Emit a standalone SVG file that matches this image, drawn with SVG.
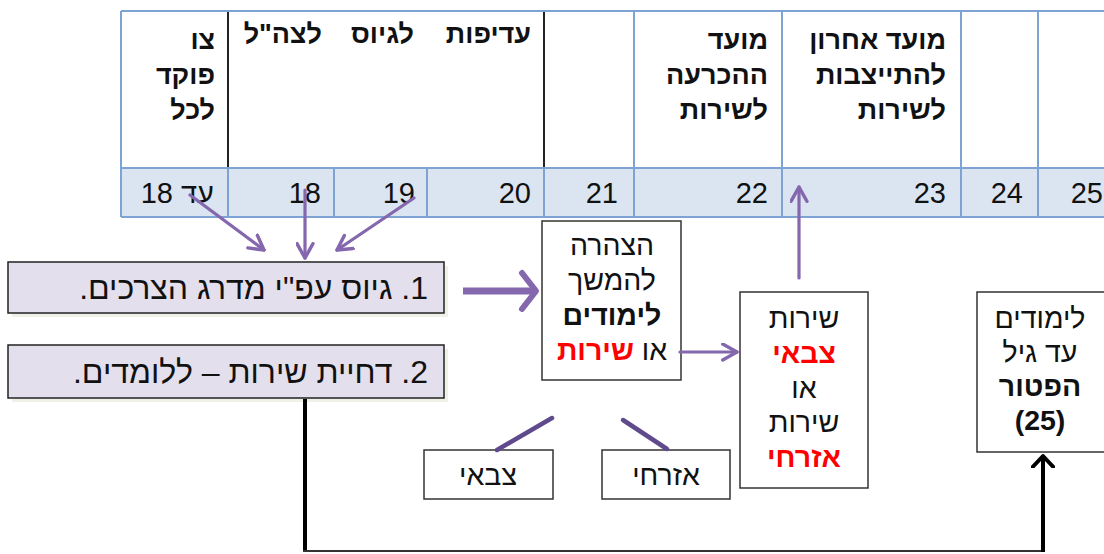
<svg xmlns="http://www.w3.org/2000/svg" width="1104" height="554" viewBox="0 0 1104 554">
<style>
text{font-family:"Liberation Sans","DejaVu Sans",Arial,sans-serif;fill:#111}
.hd{font-size:27px;font-weight:bold}
.num{font-size:29px}
.rt{direction:rtl;text-anchor:start}
.big{font-size:32px}
.mid{font-size:28.5px;text-anchor:middle}
.b{font-weight:bold}
.red{fill:#ff0000;font-weight:bold}
.bl{stroke:#7ca3d4;stroke-width:2;fill:none}
.blk{stroke:#222;stroke-width:2}
.box{fill:#fff;stroke:#333;stroke-width:1.5}
.lav{fill:#e4dfec;stroke:#222;stroke-width:1.5}
.pa{stroke:#8567ad;stroke-width:3.2;fill:none;stroke-linecap:round}
.pd{stroke:#5e4a8c;stroke-width:4.5;fill:none;stroke-linecap:round}
</style>
<defs>
<marker id="ah" viewBox="0 0 12 12" refX="10" refY="6" markerWidth="19" markerHeight="19" markerUnits="userSpaceOnUse" orient="auto">
<path d="M1,1 L10,6 L1,11" fill="none" stroke="#8567ad" stroke-width="2.2" stroke-linecap="round" stroke-linejoin="round"/>
</marker>
<marker id="ahk" viewBox="0 0 12 12" refX="6" refY="6" markerWidth="24" markerHeight="24" markerUnits="userSpaceOnUse" orient="auto">
<path d="M0.5,0.8 L6,6 L0.5,11.2" fill="none" stroke="#000" stroke-width="2" stroke-linecap="round" stroke-linejoin="round"/>
</marker>
</defs>
<rect width="1104" height="554" fill="#fff"/>

<g id="table">
<rect x="121" y="168" width="990" height="49" fill="#dbe5f1"/>
<path class="bl" d="M121,11 H1110 M121,168 H1110 M121,217 H1110 M121,11 V217 M228,168 V217 M334,168 V217 M427,168 V217 M544,168 V217 M634,11 V217 M782,11 V217 M961,11 V217 M1038,11 V217"/>
<path class="blk" d="M228,12 V167 M544,12 V167"/>
<text class="hd rt" x="215" y="49">צו</text>
<text class="hd rt" x="215" y="84">פוקד</text>
<text class="hd rt" x="215" y="119">לכל</text>
<text class="hd rt" x="531" y="43">עדיפות</text>
<text class="hd rt" x="414" y="43">לגיוס</text>
<text class="hd rt" x="322" y="43">לצה"ל</text>
<text class="hd rt" x="768" y="49">מועד</text>
<text class="hd rt" x="768" y="84">ההכרעה</text>
<text class="hd rt" x="768" y="119">לשירות</text>
<text class="hd rt" x="946" y="49">מועד אחרון</text>
<text class="hd rt" x="946" y="84">להתייצבות</text>
<text class="hd rt" x="946" y="119">לשירות</text>
<text class="num rt" x="214" y="203">עד 18</text>
<text class="num rt" x="321" y="203">18</text>
<text class="num rt" x="415" y="203">19</text>
<text class="num rt" x="531" y="203">20</text>
<text class="num rt" x="618" y="203">21</text>
<text class="num rt" x="768" y="203">22</text>
<text class="num rt" x="946" y="203">23</text>
<text class="num rt" x="1023" y="203">24</text>
<text class="num rt" x="1103" y="203">25</text>
</g>

<g id="box1">
<rect x="12" y="266" width="436" height="51" fill="#eef2e6"/>
<rect class="lav" x="8" y="262" width="436" height="51"/>
<text class="big rt" x="428" y="299">1. גיוס עפ"י מדרג הצרכים.</text>
</g>

<g id="box2">
<rect x="12" y="349" width="436" height="53" fill="#eef2e6"/>
<rect class="lav" x="8" y="345" width="436" height="53"/>
<text class="big rt" x="428" y="383">2. דחיית שירות – ללומדים.</text>
</g>

<g id="declare">
<rect class="box" x="542" y="221" width="139" height="159"/>
<text class="mid" x="612" y="255">הצהרה</text>
<text class="mid" x="612" y="290">להמשך</text>
<text class="mid b" x="612" y="325">לימודים</text>
<text class="mid" x="612" y="360" direction="rtl">או <tspan class="red">שירות</tspan></text>
</g>

<g id="service">
<rect class="box" x="740" y="292" width="128" height="196"/>
<text class="mid" x="804" y="328">שירות</text>
<text class="mid red" x="804" y="363">צבאי</text>
<text class="mid" x="804" y="398">או</text>
<text class="mid" x="804" y="432">שירות</text>
<text class="mid red" x="804" y="467">אזרחי</text>
</g>

<g id="study">
<rect class="box" x="977" y="292" width="130" height="160"/>
<text class="mid" x="1040" y="328">לימודים</text>
<text class="mid" x="1040" y="362">עד גיל</text>
<text class="mid b" x="1040" y="396">הפטור</text>
<text class="mid b" x="1040" y="430">(25)</text>
</g>

<g id="military">
<rect class="box" x="424" y="450" width="129" height="49"/>
<text class="mid" x="488" y="485">צבאי</text>
</g>

<g id="civil">
<rect class="box" x="602" y="450" width="128" height="49"/>
<text class="mid" x="666" y="485">אזרחי</text>
</g>

<g id="connectors">
<line class="pa" x1="190" y1="195" x2="264" y2="250" marker-end="url(#ah)"/>
<line class="pa" x1="305" y1="190" x2="305" y2="258" marker-end="url(#ah)"/>
<line class="pa" x1="414" y1="198" x2="337" y2="250" marker-end="url(#ah)"/>
<line x1="463" y1="291" x2="533" y2="291" stroke="#8567ad" stroke-width="7"/>
<path d="M522,273 L536,291 L522,309" fill="none" stroke="#8567ad" stroke-width="6" stroke-linecap="round" stroke-linejoin="round"/>
<line class="pa" x1="680" y1="352" x2="737" y2="352" marker-end="url(#ah)"/>
<line class="pa" x1="799" y1="278" x2="799" y2="187" marker-end="url(#ah)"/>
<line class="pd" x1="497" y1="450" x2="552" y2="418"/>
<line class="pd" x1="623" y1="420" x2="667" y2="449"/>
<path d="M305,399 V552" stroke="#000" stroke-width="4" fill="none"/>
<path d="M303,551 H1043" stroke="#333" stroke-width="2" fill="none"/>
<path d="M1043,552 V456" stroke="#000" stroke-width="4" fill="none" marker-end="url(#ahk)"/>
</g>
</svg>
